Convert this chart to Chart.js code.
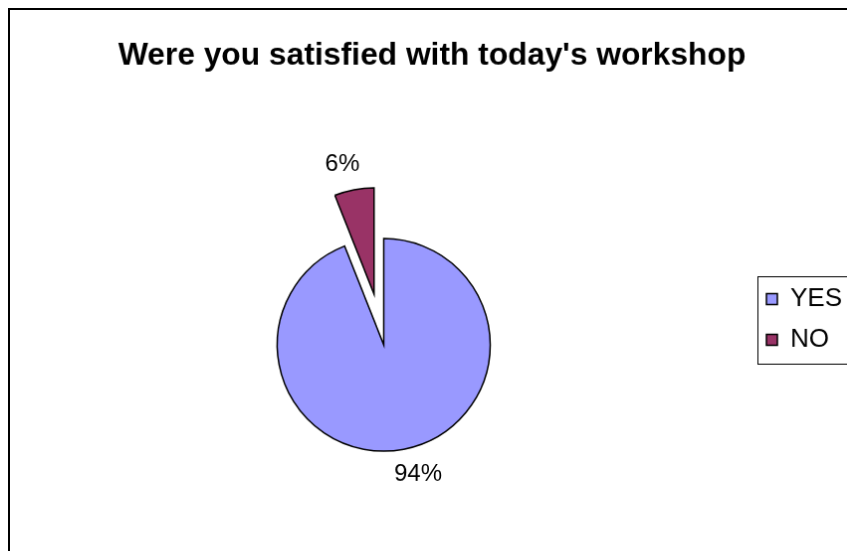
<!DOCTYPE html>
<html lang="en">

<head>
    <meta charset="UTF-8" />
    <title>Workshop satisfaction</title>
    <script src="https://cdn.jsdelivr.net/npm/chart.js@4.4.1/dist/chart.umd.min.js"></script>
    <style>
        html, body { margin: 0; overflow: hidden; background: #fff; }
        body { padding: 8px; }
        #myChart { border: 2px solid #000; display: block; }
    </style>
</head>

<body>
    <canvas id="myChart" width="842" height="603"></canvas>

    <script>
        // survey answers (percent)
        const answers = ['YES', 'NO'];
        const shares = [94, 6];
        const sliceColors = ['#9999FF', '#993366'];

        Chart.defaults.font.family = '"Liberation Sans", Arial, sans-serif';
        Chart.defaults.color = '#000';

        // pull exploded slices away from the centre along their mid angle
        const explodeSlices = {
            id: 'explodeSlices',
            afterDatasetUpdate(chart, args) {
                const ds = chart.data.datasets[args.index];
                args.meta.data.forEach((arc, i) => {
                    const d = (ds.explode || [])[i] || 0;
                    if (!d) return;
                    const mid = (arc.startAngle + arc.endAngle) / 2;
                    arc.x += Math.cos(mid) * d;
                    arc.y += Math.sin(mid) * d;
                });
            }
        };

        // percent labels outside each slice
        const sliceLabels = {
            id: 'sliceLabels',
            afterDatasetsDraw(chart) {
                const ctx = chart.ctx;
                const meta = chart.getDatasetMeta(0);
                const values = chart.data.datasets[0].data;
                ctx.save();
                ctx.font = '24px "Liberation Sans", Arial, sans-serif';
                ctx.fillStyle = '#000';
                ctx.textAlign = 'center';
                ctx.textBaseline = 'middle';
                meta.data.forEach((arc, i) => {
                    const text = values[i] + '%';
                    const w = ctx.measureText(text).width;
                    const mid = (arc.startAngle + arc.endAngle) / 2;
                    const dist = arc.outerRadius + 26;
                    const x = arc.x + Math.cos(mid) * dist + Math.sign(Math.cos(mid)) * w * 0.2;
                    const y = arc.y + Math.sin(mid) * dist;
                    ctx.fillText(text, x, y);
                });
                ctx.restore();
            }
        };

        // thin frame round the legend entries
        const legendFrame = {
            id: 'legendFrame',
            afterDraw(chart) {
                const lg = chart.legend;
                const boxes = lg.legendHitBoxes;
                if (!boxes || !boxes.length) return;
                const last = boxes[boxes.length - 1];
                const top = boxes[0].top - 10;
                const bottom = last.top + last.height + 11;
                const ctx = chart.ctx;
                ctx.save();
                ctx.strokeStyle = '#000';
                ctx.lineWidth = 1;
                ctx.strokeRect(Math.round(boxes[0].left - 9) + 0.5, Math.round(top) + 0.5, lg.width + 30, Math.round(bottom - top));
                ctx.restore();
            }
        };

        const ctx = document.getElementById('myChart').getContext('2d');
        const myChart = new Chart(ctx, {
            type: 'pie',
            data: {
                labels: answers,
                datasets: [{
                    data: shares,
                    backgroundColor: sliceColors,
                    borderColor: '#000',
                    borderWidth: 1.5,
                    borderJoinStyle: 'miter',
                    radius: 107,
                    explode: [0, 52]
                }]
            },
            options: {
                responsive: false,
                animation: false,
                layout: { padding: { top: 20, left: 6 } },
                plugins: {
                    title: {
                        display: true,
                        text: "Were you satisfied with today's workshop",
                        color: '#000',
                        font: { size: 31.8, weight: 'bold', lineHeight: 1.2 },
                        padding: { top: 7, bottom: 6 }
                    },
                    legend: {
                        position: 'right',
                        maxWidth: 97,
                        labels: {
                            boxWidth: 11,
                            boxHeight: 11,
                            padding: 15,
                            color: '#000',
                            font: { size: 26 }
                        }
                    },
                    tooltip: { enabled: false }
                }
            },
            plugins: [explodeSlices, sliceLabels, legendFrame]
        });
    </script>
</body>

</html>
